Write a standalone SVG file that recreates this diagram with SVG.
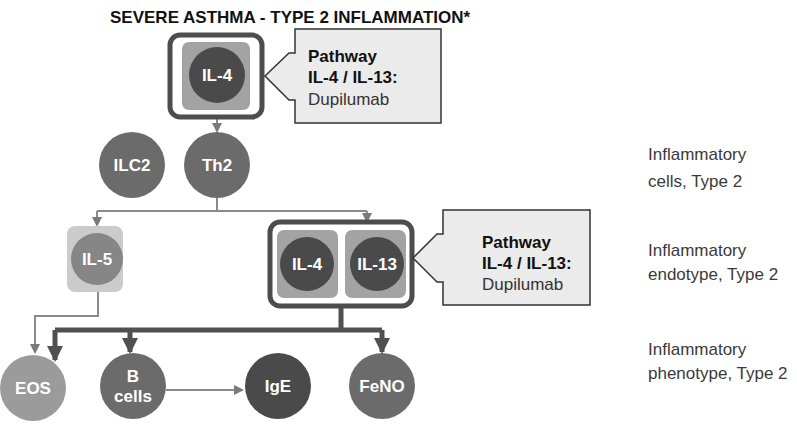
<svg xmlns="http://www.w3.org/2000/svg" width="797" height="425" viewBox="0 0 797 425">
<style>
text{font-family:"Liberation Sans",Arial,sans-serif}
.ct{fill:#fff;font-weight:bold;font-size:17px;text-anchor:middle}
.lab{fill:#3a3a3a;font-size:17px}
.co{fill:#ebebeb;stroke:#333;stroke-width:1.5}
.cb{fill:#111;font-size:17px;font-weight:bold}
.cn{fill:#333;font-size:17px}
.thin{stroke:#8a8a8a;stroke-width:2;fill:none}
.thick{stroke:#505050;stroke-width:5;fill:none}
.frame{fill:#fff;stroke:#4d4d4d;stroke-width:5}
</style>
<defs>
<marker id="a" markerWidth="10" markerHeight="10" refX="8" refY="5" orient="auto" markerUnits="userSpaceOnUse"><path d="M0,0 L10,5 L0,10 Z" fill="#7a7a7a"/></marker>
<marker id="b" markerWidth="16" markerHeight="16" refX="14" refY="8" orient="auto" markerUnits="userSpaceOnUse"><path d="M0,0 L16,8 L0,16 Z" fill="#505050"/></marker>
</defs>
<text x="110" y="23" font-size="17" font-weight="bold" fill="#111">SEVERE ASTHMA - TYPE 2 INFLAMMATION*</text>
<g id="connectors">
<path class="thin" d="M217,117 V131" marker-end="url(#a)"/>
<path class="thin" d="M217,198 V211 M97,211 H367"/>
<path class="thin" d="M97,211 V225" marker-end="url(#a)"/>
<path class="thin" d="M367,211 V221" marker-end="url(#a)"/>
<path class="thin" d="M98,292 V316 H35 V352" marker-end="url(#a)"/>
<path class="thick" d="M341,306 V330 M55,330 H382"/>
<path class="thick" d="M55,330 V360" marker-end="url(#b)"/>
<path class="thick" d="M130,330 V352" marker-end="url(#b)"/>
<path class="thick" d="M382,330 V352" marker-end="url(#b)"/>
<path class="thin" d="M166,390 H242" marker-end="url(#a)"/>
</g>
<g id="il4top">
<rect class="frame" x="170" y="35" width="92" height="82" rx="10"/>
<rect x="182" y="42" width="68" height="68" rx="7" fill="#a3a3a3"/>
<circle cx="217" cy="75" r="28" fill="#4a4a4a"/>
<text class="ct" x="217" y="81">IL-4</text>
</g>
<g id="callout1">
<path class="co" d="M295,29 H441 V123 H295 V100 H289 L265,76 L289,53 H295 Z"/>
<text class="cb" x="308" y="62">Pathway</text>
<text class="cb" x="308" y="83">IL-4 / IL-13:</text>
<text class="cn" x="308" y="105">Dupilumab</text>
</g>
<g id="ilc2"><circle cx="132" cy="165" r="33" fill="#6b6b6b"/><text class="ct" x="132" y="171">ILC2</text></g>
<g id="th2"><circle cx="217" cy="165" r="33" fill="#6b6b6b"/><text class="ct" x="217" y="171">Th2</text></g>
<g id="il5">
<rect x="67" y="226" width="56" height="66" rx="8" fill="#cbcbcb"/>
<circle cx="97" cy="259" r="26" fill="#868686"/>
<text class="ct" x="97" y="265">IL-5</text>
</g>
<g id="il4il13">
<rect class="frame" x="270" y="222" width="142" height="84" rx="10"/>
<rect x="277" y="230" width="61" height="68" rx="7" fill="#a3a3a3"/>
<rect x="345" y="230" width="61" height="68" rx="7" fill="#a3a3a3"/>
<circle cx="307" cy="264" r="27" fill="#4a4a4a"/>
<circle cx="377" cy="264" r="27" fill="#4a4a4a"/>
<text class="ct" x="307" y="270">IL-4</text>
<text class="ct" x="377" y="270">IL-13</text>
</g>
<g id="callout2">
<path class="co" d="M443,210 H590 V305 H443 V282 H437 L413,258 L437,234 H443 Z"/>
<text class="cb" x="482" y="248">Pathway</text>
<text class="cb" x="482" y="269">IL-4 / IL-13:</text>
<text class="cn" x="482" y="290">Dupilumab</text>
</g>
<g id="eos"><circle cx="33" cy="388" r="33" fill="#9b9b9b"/><text class="ct" x="33" y="394">EOS</text></g>
<g id="bcells"><circle cx="133" cy="386" r="33" fill="#6b6b6b"/><text class="ct" x="133" y="382">B</text><text class="ct" x="133" y="402">cells</text></g>
<g id="ige"><circle cx="278" cy="386" r="33" fill="#4a4a4a"/><text class="ct" x="278" y="392">IgE</text></g>
<g id="feno"><circle cx="382" cy="386" r="33" fill="#6b6b6b"/><text class="ct" x="382" y="392">FeNO</text></g>
<g id="labels">
<text class="lab" x="648" y="160">Inflammatory</text>
<text class="lab" x="648" y="187">cells, Type 2</text>
<text class="lab" x="648" y="256">Inflammatory</text>
<text class="lab" x="648" y="280">endotype, Type 2</text>
<text class="lab" x="648" y="355">Inflammatory</text>
<text class="lab" x="648" y="379">phenotype, Type 2</text>
</g>
</svg>
